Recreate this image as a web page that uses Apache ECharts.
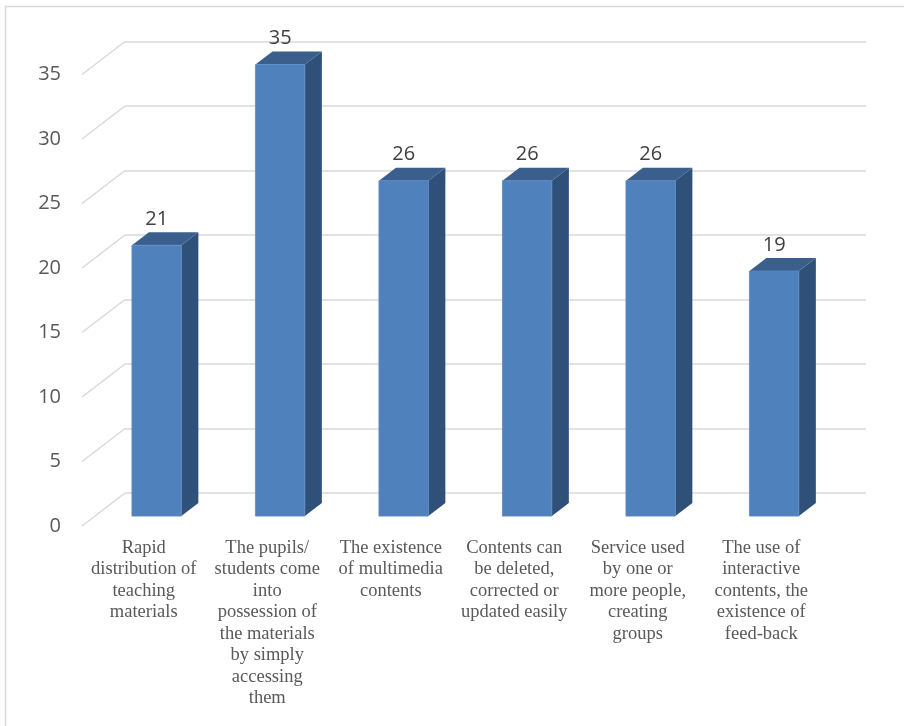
<!DOCTYPE html>
<html>
<head>
<meta charset="utf-8">
<script src="https://cdn.jsdelivr.net/npm/echarts@6/dist/echarts.min.js"></script>
<style>
  html, body { margin: 0; padding: 0; background: #ffffff; }
  #chart { width: 904px; height: 726px; }
</style>
</head>
<body>
<div id="chart"></div>
<script>
// Categories (line breaks follow the wrapped label layout)
const categories = [
  'Rapid\ndistribution of\nteaching\nmaterials',
  'The pupils/\nstudents come\ninto\npossession of\nthe materials\nby simply\naccessing\nthem',
  'The existence\nof multimedia\ncontents',
  'Contents can\nbe deleted,\ncorrected or\nupdated easily',
  'Service used\nby one or\nmore people,\ncreating\ngroups',
  'The use of\ninteractive\ncontents, the\nexistence of\nfeed-back'
];
const values = [21, 35, 26, 26, 26, 19];
const yTicks = [0, 5, 10, 15, 20, 25, 30, 35];

// 3-D look: depth shift of the back wall and of each bar
const WALL = { dx: 43, dy: -33 };
const BAR = { dx: 17, dy: -13 };
const BAR_PLANE = 0.30;          // fraction of the depth where bar fronts sit
const FRONT = { left: 82, width: 741, bottom: 200, top: 74.5 };

const COLORS = {
  front: '#4f81bd',
  side: '#2f5079',
  top: '#3a5f8c',
  grid: '#d9d9d9',
  axisText: '#595959',
  valueText: '#404040'
};

function shifted(f) {
  return {
    left: FRONT.left + WALL.dx * f,
    width: FRONT.width,
    top: FRONT.top + WALL.dy * f,
    bottom: FRONT.bottom - WALL.dy * f
  };
}

const chart = echarts.init(document.getElementById('chart'), null, { renderer: 'canvas' });

const yBase = { type: 'value', min: 0, max: 35, interval: 5 };

const option = {
  animation: false,
  backgroundColor: '#ffffff',
  graphic: [{
    type: 'rect',
    shape: { x: 5.5, y: 6.5, width: 1000, height: 1000 },
    style: { fill: 'none', stroke: '#d9d9d9', lineWidth: 1.5 },
    silent: true
  }],
  grid: [
    shifted(1),                 // back wall
    shifted(0),                 // front plane (axis labels)
    shifted(BAR_PLANE)          // bar fronts
  ],
  xAxis: [
    { type: 'category', data: categories, gridIndex: 0, show: false },
    {
      type: 'category', data: categories, gridIndex: 1,
      axisLine: { show: false }, axisTick: { show: false },
      axisLabel: {
        interval: 0, margin: 11,
        fontFamily: 'Liberation Serif', fontSize: 18.5, lineHeight: 21.5,
        color: COLORS.axisText, align: 'center'
      }
    },
    { type: 'category', data: categories, gridIndex: 2, show: false }
  ],
  yAxis: [
    Object.assign({}, yBase, {
      gridIndex: 0,
      axisLabel: { show: false }, axisLine: { show: false }, axisTick: { show: false },
      splitLine: { show: true, lineStyle: { color: COLORS.grid, width: 1.5 } }
    }),
    Object.assign({}, yBase, {
      gridIndex: 1,
      axisLine: { show: false }, axisTick: { show: false }, splitLine: { show: false },
      axisLabel: {
        margin: 21, fontFamily: 'Open Sans', fontSize: 20, color: COLORS.axisText,
        padding: [6, 0, 0, 0]
      }
    }),
    Object.assign({}, yBase, { gridIndex: 2, show: false, splitLine: { show: false } })
  ],
  series: [
    {
      // slanted floor-to-wall gridline segments on the left side
      type: 'custom',
      xAxisIndex: 1, yAxisIndex: 1,
      silent: true,
      data: yTicks.map(v => [0, v]),
      renderItem: function (params, api) {
        const cs = params.coordSys;
        const y = api.coord([0, api.value(1)])[1];
        return {
          type: 'line',
          shape: { x1: cs.x, y1: y, x2: cs.x + WALL.dx, y2: y + WALL.dy },
          style: { stroke: COLORS.grid, lineWidth: 1.5 }
        };
      }
    },
    {
      type: 'custom',
      xAxisIndex: 2, yAxisIndex: 2,
      silent: true,
      data: values.map((v, i) => [i, v]),
      renderItem: function (params, api) {
        const cat = api.value(0);
        const val = api.value(1);
        const base = api.coord([cat, 0]);
        const top = api.coord([cat, val]);
        const w = api.size([1, 0])[0] * 0.4;
        const x0 = base[0] - w / 2;
        const x1 = base[0] + w / 2;
        const yb = base[1];
        const yt = top[1];
        return {
          type: 'group',
          children: [
            {
              type: 'polygon',
              shape: { points: [[x1, yt], [x1 + BAR.dx, yt + BAR.dy], [x1 + BAR.dx, yb + BAR.dy], [x1, yb]] },
              style: { fill: COLORS.side }
            },
            {
              type: 'polygon',
              shape: { points: [[x0, yt], [x0 + BAR.dx, yt + BAR.dy], [x1 + BAR.dx, yt + BAR.dy], [x1, yt]] },
              style: { fill: COLORS.top }
            },
            {
              type: 'rect',
              shape: { x: x0, y: yt, width: w, height: yb - yt },
              style: { fill: COLORS.front, stroke: '#5a8ac4', lineWidth: 0.8 }
            },
            {
              type: 'text',
              x: base[0], y: yt + BAR.dy - 3,
              style: {
                text: String(val),
                fontFamily: 'Open Sans', fontSize: 20,
                fill: COLORS.valueText,
                align: 'center', verticalAlign: 'bottom'
              }
            }
          ]
        };
      }
    }
  ]
};

chart.setOption(option);
</script>
</body>
</html>
